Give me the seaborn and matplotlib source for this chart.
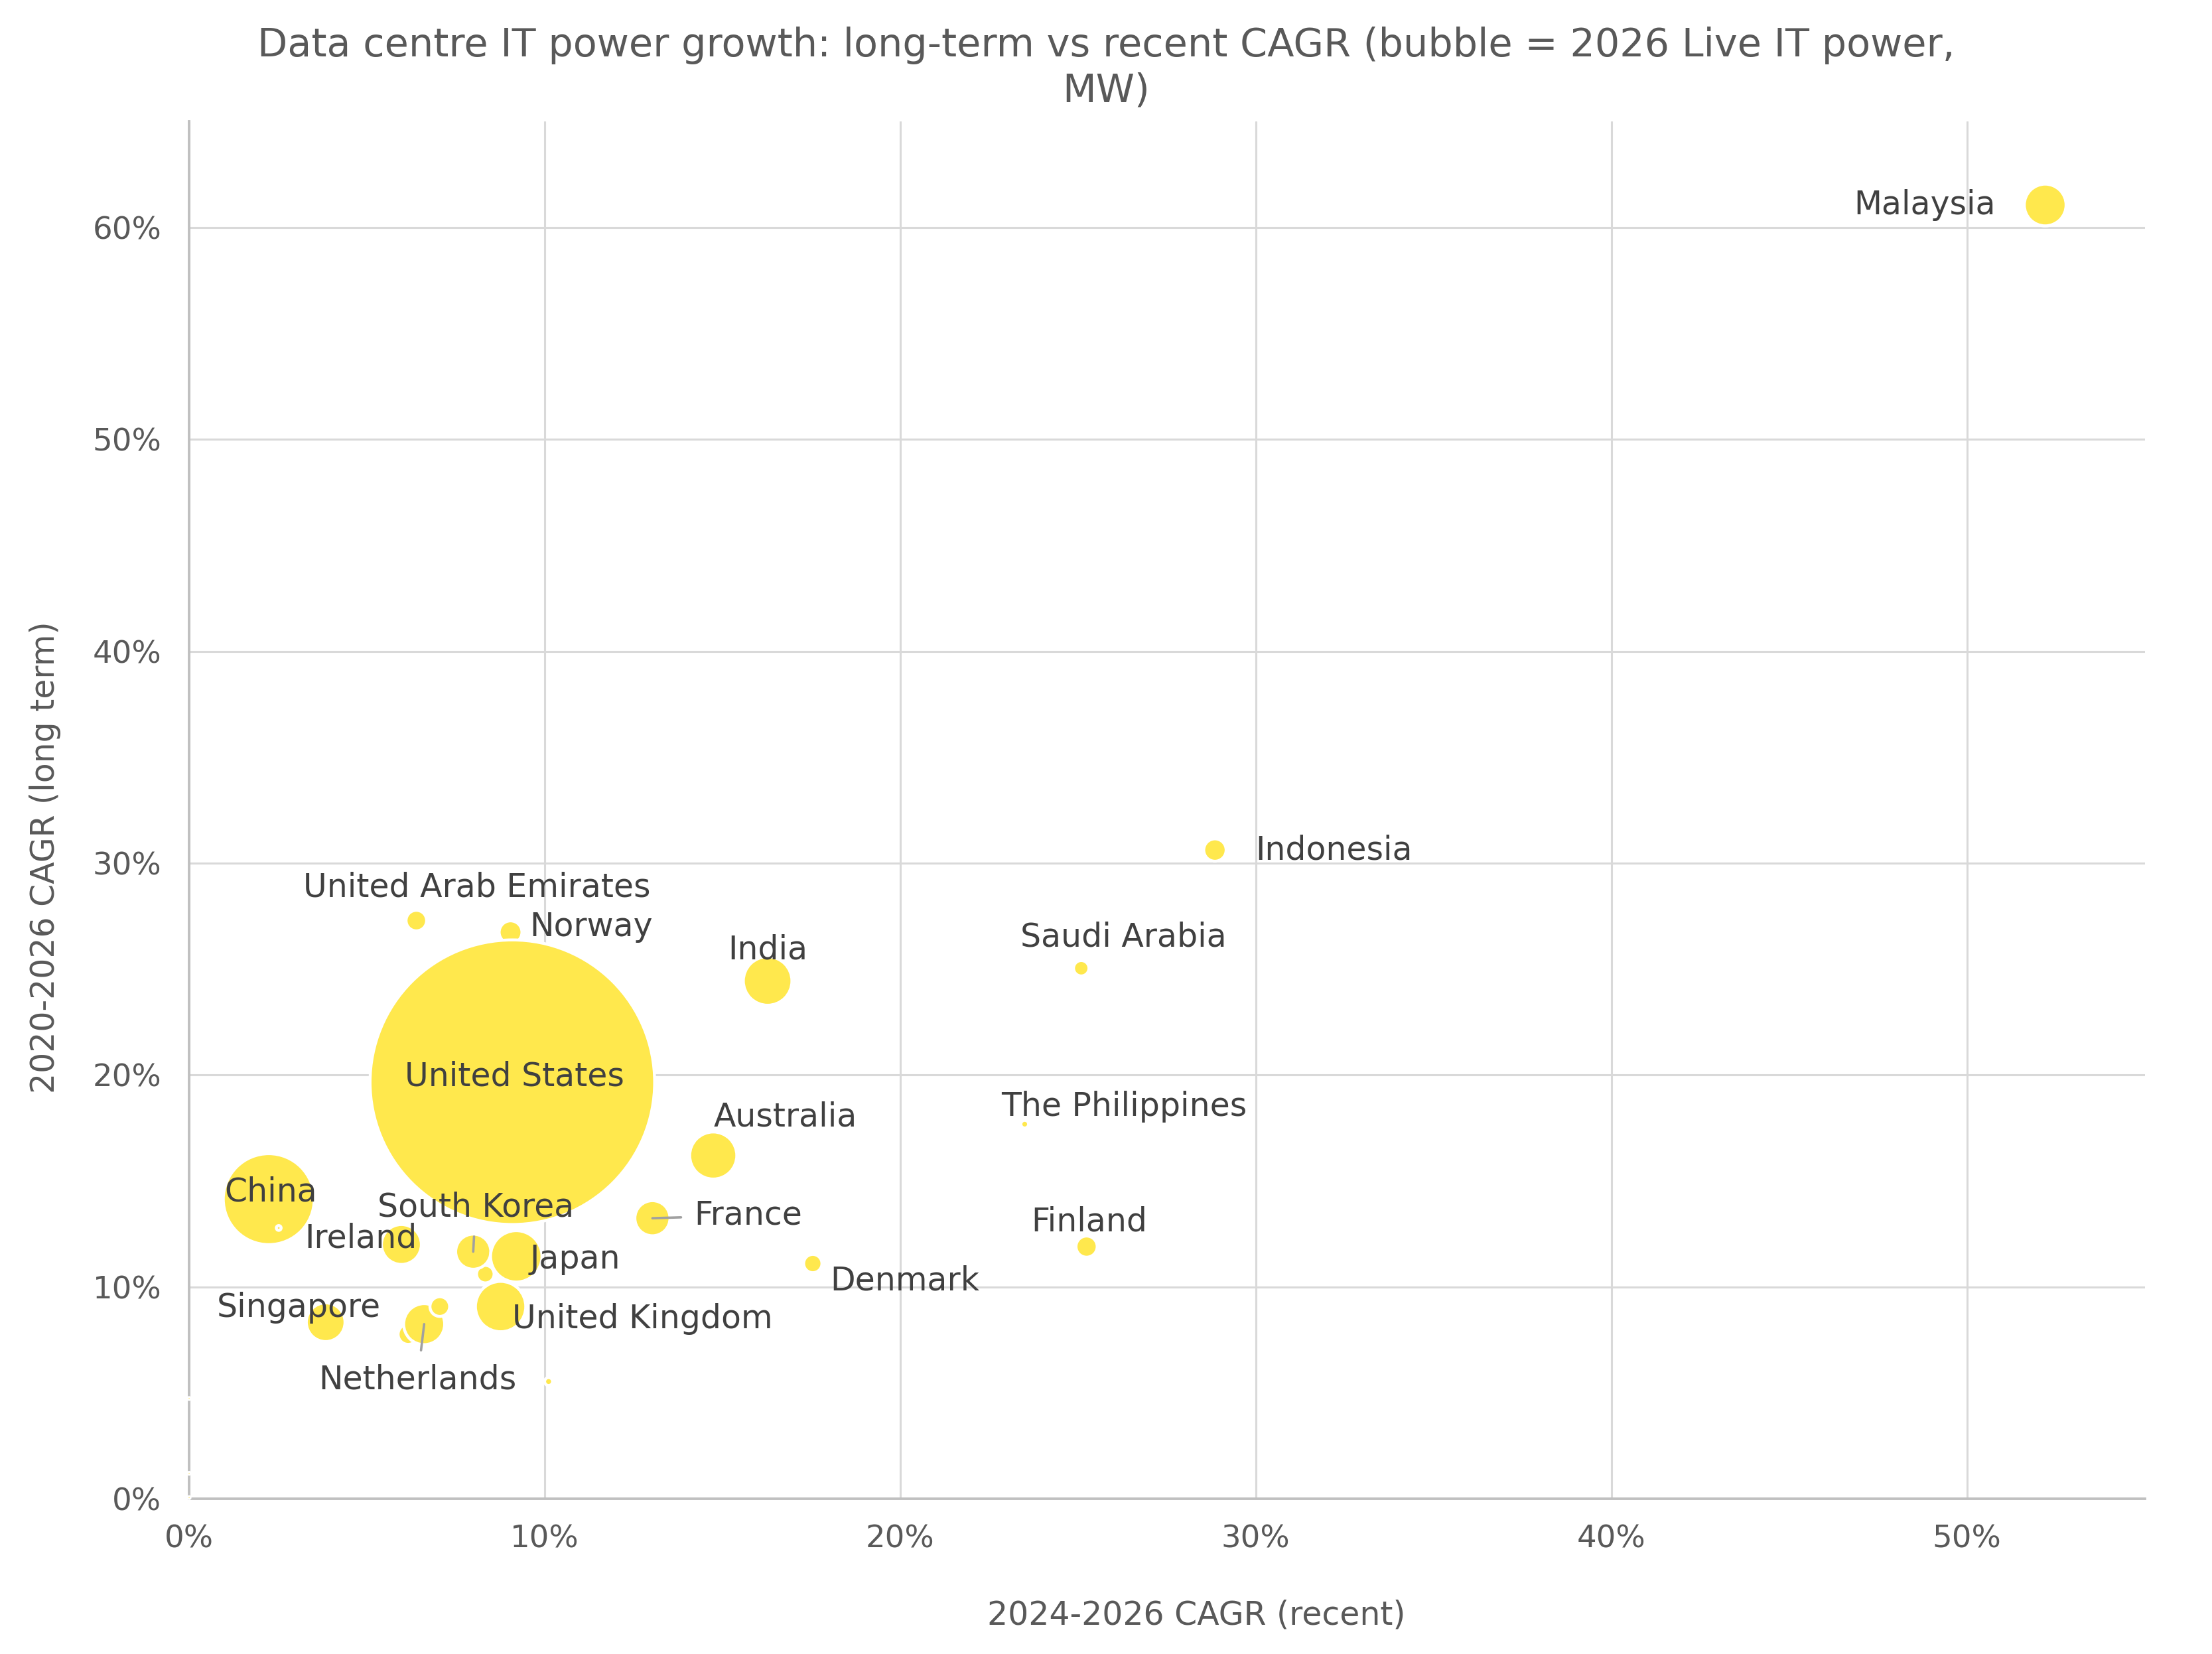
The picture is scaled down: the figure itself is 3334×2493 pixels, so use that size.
import numpy as np
import pandas as pd
import matplotlib
matplotlib.use("Agg")
import matplotlib.pyplot as plt
import matplotlib.ticker as mticker
import seaborn as sns

# --- data ---
countries = ["China", "", "Ireland", "Singapore", "", "Netherlands", "", "",
             "South Korea", "Japan", "United Kingdom", "Norway", "United States",
             "United Arab Emirates", "India", "Australia", "France", "Denmark",
             "Saudi Arabia", "The Philippines", "Finland", "Indonesia", "Malaysia",
             "", "", "", ""]
recent_cagr = [2.24, 2.52, 5.97, 3.84, 6.16, 6.61, 7.05, 8.33,
               7.99, 9.20, 8.76, 9.04, 9.09,
               6.39, 16.27, 14.74, 13.03, 17.54,
               25.09, 23.50, 25.24, 28.85, 52.20,
               10.11, 0.0, 0.0, 0.0]
long_cagr = [14.14, 12.78, 12.00, 8.33, 7.76, 8.24, 9.07, 10.60,
             11.66, 11.44, 9.07, 26.74, 19.66,
             27.29, 24.44, 16.20, 13.24, 11.10,
             25.04, 17.68, 11.90, 30.62, 61.07,
             5.53, 4.73, 1.20, 0.05]
live_mw_2026 = [4700, 13, 905, 850, 230, 955, 220, 175,
                700, 1500, 1440, 295, 46000,
                240, 1340, 1260, 700, 190,
                135, 34, 255, 285, 990,
                36, 2, 2, 2]

df = pd.DataFrame({"country": countries, "recent": recent_cagr,
                   "long_term": long_cagr, "mw": live_mw_2026})

# label placement: (offset x pt, offset y pt, ha, leader line)
label_pos = {
    "Malaysia": (-27, 0, "right", False),
    "Indonesia": (22, 0, "left", False),
    "Saudi Arabia": (23, 17, "center", False),
    "The Philippines": (54, 9.6, "center", False),
    "Finland": (1.6, 13.5, "center", False),
    "India": (0, 17, "center", False),
    "Australia": (39, 21, "center", False),
    "France": (22.7, 1.6, "left", True),
    "Denmark": (9.3, -9.2, "left", False),
    "United Arab Emirates": (33, 18, "center", False),
    "Norway": (10.5, 3, "left", False),
    "United States": (1, 3, "center", False),
    "China": (1, 4, "center", False),
    "Ireland": (-22, 3.5, "center", False),
    "South Korea": (1.3, 24, "center", True),
    "Japan": (7.5, -1.4, "left", False),
    "United Kingdom": (6.2, -6.8, "left", False),
    "Singapore": (-14.5, 8, "center", False),
    "Netherlands": (-3.6, -30, "center", True),
}

sns.set_style("white")
plt.rcParams['font.family'] = ['DejaVu Sans']

DPI = 200
fig = plt.figure(figsize=(3334 / DPI, 2493 / DPI), dpi=DPI)
ax = fig.add_axes([0.0855, 0.0939, 0.9696 - 0.0855, 0.9264 - 0.0939])

# bubble area proportional to MW
max_mw = max(live_mw_2026)
s_max = 0.5184 * max_mw
sns.scatterplot(data=df, x="recent", y="long_term", size="mw",
                sizes=(0, s_max), size_norm=(0, max_mw),
                color="#FFE84D", edgecolor="white", linewidth=1.6,
                alpha=1, legend=False, ax=ax, zorder=3, clip_on=False)

for _, row in df.iterrows():
    name = row["country"]
    if name not in label_pos:
        continue
    dx, dy, ha, leader = label_pos[name]
    arrow = None
    if leader:
        arrow = dict(arrowstyle="-", color="#a0a0a0", lw=1.3,
                     shrinkA=5, shrinkB=0)
    ax.annotate(name, xy=(row["recent"], row["long_term"]),
                xytext=(dx, dy), textcoords="offset points",
                ha=ha, va="center", fontsize=17.6, color="#404040",
                arrowprops=arrow, zorder=5)

ax.set_xlim(0, 55)
ax.set_ylim(0, 65)
ax.set_xticks(np.arange(0, 51, 10))
ax.set_yticks(np.arange(0, 61, 10))
ax.xaxis.set_major_formatter(mticker.FuncFormatter(lambda v, p: f"{v:.0f}%"))
ax.yaxis.set_major_formatter(mticker.FuncFormatter(lambda v, p: f"{v:.0f}%"))
ax.tick_params(axis="both", length=0, labelsize=16.8, labelcolor="#595959")
ax.tick_params(axis="x", pad=14)
ax.tick_params(axis="y", pad=15)

ax.grid(True, color="#d9d9d9", linewidth=1.1)
ax.set_axisbelow(True)
for side in ["top", "right"]:
    ax.spines[side].set_visible(False)
for side in ["left", "bottom"]:
    ax.spines[side].set_color("#c0c0c0")
    ax.spines[side].set_linewidth(1.4)

ax.set_xlabel("2024-2026 CAGR (recent)", fontsize=17.6, color="#595959")
ax.set_ylabel("2020-2026 CAGR (long term)", fontsize=17.6, color="#595959")
ax.xaxis.set_label_coords(0.515, -0.073)
ax.yaxis.set_label_coords(-0.0655, 0.466)

fig.text(0.5, 0.984,
         "Data centre IT power growth: long-term vs recent CAGR (bubble = 2026 Live IT power,\nMW)",
         ha="center", va="top", fontsize=21.2, color="#595959", linespacing=1.25)

fig.savefig("out.png", dpi=DPI)
